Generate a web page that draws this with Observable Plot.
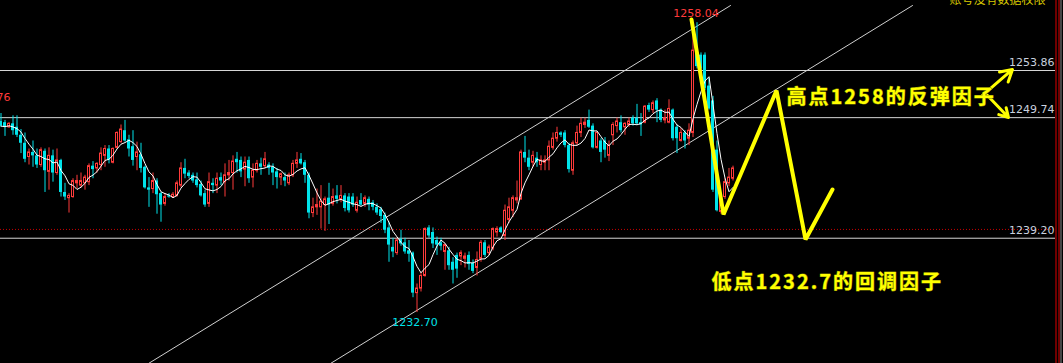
<!DOCTYPE html>
<html><head><meta charset="utf-8">
<script src="https://cdn.jsdelivr.net/npm/d3@7"></script>
<script src="https://cdn.jsdelivr.net/npm/@observablehq/plot@0.6"></script>
<style>html,body{margin:0;padding:0;background:#000;overflow:hidden}</style>
</head><body><div id="chart"></div>
<script>
// candle index 0..183, prices
const open = [
1249.4,1249.3,1248.9,1249.2,1248.9,1248.2,1247.5,1246.3,1246.7,1246.4,
1245.6,1246.8,1245.0,1246.4,1244.9,1246.0,1243.2,1242.7,1242.8,1244.0,
1243.8,1244.0,1244.1,1245.5,1245.3,1245.6,1246.4,1247.0,1245.8,1247.1,
1247.6,1248.6,1247.8,1247.2,1246.3,1246.5,1245.4,1243.6,1243.5,1244.2,
1243.1,1242.2,1242.9,1242.8,1242.9,1243.8,1245.3,1244.9,1244.7,1244.3,
1243.9,1243.1,1242.2,1244.0,1243.8,1244.5,1244.1,1244.7,1244.9,1246.1,
1246.0,1245.2,1246.0,1244.5,1245.1,1245.7,1245.5,1245.6,1245.4,1245.0,
1244.5,1244.5,1244.0,1244.7,1245.7,1246.1,1245.8,1244.7,1241.4,1241.9,
1241.9,1242.1,1242.7,1242.2,1242.9,1242.6,1242.9,1242.8,1242.8,1241.6,
1242.5,1242.2,1242.6,1242.3,1241.9,1241.7,1241.2,1240.1,1238.4,1237.9,
1239.1,1238.8,1238.1,1237.9,1234.4,1234.8,1235.9,1240.1,1239.7,1239.0,
1238.8,1238.0,1238.1,1237.1,1237.7,1237.6,1237.4,1237.7,1237.0,1236.6,
1237.4,1238.8,1237.9,1238.3,1239.7,1240.1,1239.4,1240.8,1241.6,1242.5,
1242.6,1246.7,1246.2,1245.8,1246.2,1245.6,1245.8,1246.0,1247.1,1247.9,
1248.4,1248.4,1247.3,1245.1,1247.5,1248.4,1249.1,1249.5,1249.0,1247.1,
1247.7,1247.7,1246.4,1248.2,1249.0,1249.3,1248.9,1249.1,1249.7,1249.7,
1249.3,1249.3,1250.8,1250.4,1251.2,1250.4,1249.5,1249.3,1250.4,1248.9,
1247.7,1248.4,1247.9,1248.4,1255.8,1255.2,1255.2,1252.5,1251.2,1246.9,
1241.5,1242.8,1244.0,1244.4];
const high = [
1250.1,1249.5,1249.3,1249.9,1249.9,1248.7,1248.4,1247.0,1247.7,1247.0,
1247.1,1247.0,1247.1,1246.9,1247.0,1246.1,1244.0,1243.1,1244.4,1244.7,
1244.9,1244.7,1245.7,1245.9,1245.8,1247.1,1247.3,1247.3,1247.1,1248.5,
1249.1,1249.5,1248.2,1248.6,1247.6,1247.5,1245.5,1244.5,1244.9,1244.4,
1243.2,1243.1,1243.1,1243.2,1244.2,1245.8,1246.1,1245.1,1244.9,1244.9,
1244.2,1243.4,1244.9,1244.4,1244.9,1244.9,1245.7,1246.0,1246.4,1246.7,
1246.3,1246.3,1246.3,1245.7,1246.0,1246.2,1246.7,1245.8,1245.7,1245.3,
1244.9,1244.9,1244.9,1246.0,1246.7,1246.6,1246.0,1244.9,1242.7,1243.5,
1243.8,1242.8,1244.0,1243.5,1243.8,1243.8,1243.1,1243.1,1243.1,1242.8,
1243.1,1242.9,1242.8,1242.5,1242.2,1241.9,1241.4,1240.6,1239.2,1239.2,
1239.9,1239.2,1239.0,1238.0,1235.2,1236.2,1240.1,1240.3,1240.1,1239.3,
1239.2,1238.7,1238.4,1237.5,1237.9,1238.1,1237.9,1238.0,1237.3,1238.0,
1239.0,1239.0,1238.6,1240.1,1240.2,1240.2,1242.1,1242.7,1242.9,1244.2,
1246.9,1248.1,1246.9,1246.8,1246.7,1246.4,1246.4,1247.7,1248.4,1248.9,
1248.5,1248.6,1247.5,1247.7,1249.0,1249.7,1249.7,1250.4,1249.2,1248.5,
1247.9,1248.0,1247.7,1249.3,1249.7,1249.9,1249.3,1249.7,1249.9,1250.9,
1250.1,1250.8,1251.0,1251.2,1251.4,1250.5,1250.4,1251.3,1250.5,1249.1,
1248.8,1248.6,1249.2,1257.4,1258.04,1255.4,1255.4,1253.2,1251.6,1247.7,
1242.8,1244.4,1245.3,1245.5];
const low = [
1248.9,1248.1,1248.8,1248.2,1248.0,1246.6,1245.8,1245.6,1245.4,1245.3,
1245.4,1243.2,1243.4,1244.1,1244.7,1242.8,1242.5,1241.4,1242.7,1243.5,
1243.6,1243.4,1243.8,1244.4,1244.9,1245.1,1245.4,1245.7,1245.7,1247.0,
1247.5,1247.6,1246.3,1245.5,1245.1,1244.9,1243.5,1241.9,1243.1,1241.3,
1240.6,1242.0,1242.7,1242.7,1242.8,1243.6,1244.4,1244.4,1244.0,1243.6,
1242.8,1241.9,1241.9,1243.1,1243.1,1243.8,1242.8,1244.2,1243.4,1244.9,
1244.5,1243.7,1244.0,1243.6,1244.9,1244.7,1245.3,1244.7,1243.8,1243.5,
1243.8,1243.7,1243.8,1244.5,1245.3,1245.6,1244.0,1240.9,1241.0,1241.2,
1240.0,1239.8,1240.4,1242.0,1242.2,1242.3,1241.5,1241.4,1241.9,1241.4,
1242.0,1241.9,1241.6,1241.6,1241.2,1240.5,1239.6,1237.1,1237.5,1237.7,
1238.5,1237.8,1237.1,1234.0,1232.70,1234.5,1235.8,1239.2,1238.3,1237.7,
1238.1,1236.4,1236.4,1235.2,1235.7,1236.8,1236.6,1236.4,1236.1,1235.9,
1237.1,1237.5,1237.7,1238.1,1239.3,1239.6,1239.0,1240.5,1241.0,1242.2,
1242.5,1245.8,1245.1,1245.4,1245.4,1245.1,1245.1,1245.1,1246.9,1247.6,
1248.0,1247.1,1244.9,1244.7,1247.3,1248.0,1248.8,1248.8,1247.0,1247.0,
1245.8,1246.2,1245.9,1247.3,1248.4,1248.4,1248.2,1248.9,1249.0,1249.1,
1248.1,1249.2,1250.2,1250.1,1249.3,1249.3,1249.2,1249.2,1247.7,1246.6,
1247.6,1247.0,1247.3,1248.0,1254.0,1253.7,1252.1,1250.4,1243.2,1241.5,
1241.3,1242.6,1243.7,1244.2];
const close = [
1249.0,1248.9,1249.2,1248.6,1248.2,1247.5,1246.1,1246.7,1246.4,1245.6,
1246.9,1245.1,1246.4,1244.9,1246.0,1243.2,1242.8,1242.9,1244.2,1244.2,
1244.2,1244.5,1245.5,1245.2,1245.7,1246.6,1247.0,1246.0,1247.0,1248.4,
1248.7,1247.7,1247.0,1246.0,1246.7,1245.3,1243.6,1243.4,1244.2,1243.0,
1242.1,1242.8,1242.8,1243.0,1244.0,1245.3,1244.8,1244.6,1244.2,1243.8,
1242.9,1242.1,1244.1,1243.8,1244.4,1244.2,1244.7,1244.9,1245.9,1245.8,
1245.0,1245.8,1244.4,1245.1,1245.7,1245.4,1246.1,1245.3,1244.9,1244.5,
1244.8,1244.2,1244.7,1245.7,1246.0,1245.7,1244.7,1241.4,1241.9,1242.1,
1242.4,1242.6,1242.1,1242.8,1242.6,1242.9,1241.8,1241.6,1242.1,1242.3,
1242.1,1242.7,1242.1,1241.9,1241.4,1241.1,1239.9,1238.6,1238.0,1239.0,
1238.7,1238.0,1237.8,1234.4,1234.8,1235.9,1240.0,1239.4,1238.7,1238.6,
1238.5,1238.6,1236.8,1236.4,1236.5,1237.9,1237.6,1236.9,1236.3,1237.3,
1238.8,1237.7,1238.4,1240.0,1240.0,1239.7,1241.6,1241.9,1242.7,1242.7,
1246.7,1246.2,1245.4,1246.4,1245.8,1246.0,1246.0,1247.2,1247.9,1248.4,
1248.2,1247.3,1245.2,1247.5,1248.4,1249.2,1249.3,1248.9,1247.1,1248.4,
1246.7,1246.9,1247.3,1249.1,1249.4,1248.6,1249.2,1249.4,1249.2,1249.2,
1249.1,1250.7,1250.4,1251.0,1250.4,1249.5,1249.7,1250.5,1247.9,1247.9,
1248.4,1247.7,1248.6,1255.6,1254.2,1254.0,1252.3,1250.5,1243.4,1241.6,
1242.7,1244.1,1244.5,1245.3];

// horizontal levels (right-hand labels) and current bid line
const levels = [1253.86, 1249.74, 1239.20];
const levelLabels = ["1253.86", "1249.74", "1239.20"];
const bidPrice = 1239.97;

// extreme labels
const highMark = [{i: 174, price: 1258.04, text: "1258.04"}];
const lowMark = [{i: 104, price: 1232.70, text: "1232.70"}];
const leftMark = [{i: 2.375, price: 1250.76, text: "1250.76"}];

// channel trend lines (candle index, price)
const channelUpper = [{i: 36.875, p: 1228.25}, {i: 182.375, p: 1259.54}];
const channelLower = [{i: 82.375, p: 1228.25}, {i: 227.875, p: 1259.54}];

// yellow projected zigzag (candle index, price)
const zigzag = [
  {i: 172.625, p: 1258.32}, {i: 180.625, p: 1241.27}, {i: 193.875, p: 1252.11},
  {i: 201.125, p: 1239.09}, {i: 207.875, p: 1243.46}];

// annotation arrows
const arrows = [
  {i1: 245.375, p1: 1251.68, i2: 252.875, p2: 1253.95},
  {i1: 246.625, p1: 1251.68, i2: 251.875, p2: 1249.75}];

// annotation texts
const notes = [
  {i: 196.375, p: 1251.53, text: "高点1258的反弹因子"},
  {i: 177.625, p: 1235.36, text: "低点1232.7的回调因子"}];
const notice = [{i: 261.125, p: 1259.98, text: "账号没有数据权限"}];

const RED = "#ff3b3b", CYAN = "#00e3ea", YEL = "#ffff00";
const candles = close.map((c, i) => ({i, open: open[i], high: high[i], low: low[i], close: c, up: c >= open[i]}));
const ups = candles.filter(d => d.up), downs = candles.filter(d => !d.up);
const xEnd = 263.625;

const lblFont = {fontFamily: "DejaVu Sans", fontSize: 11};
const chart = Plot.plot({
  width: 1063, height: 363, margin: 0,
  x: {domain: [-0.125, 265.625], axis: null},
  y: {domain: [1228.25, 1259.98], axis: null},
  color: {type: "identity"},
  style: {background: "#000", overflow: "hidden"},
  marks: [
    Plot.ruleY(levels, {x1: -0.125, x2: xEnd, stroke: "#d6d6d6", strokeWidth: 1}),
    Plot.ruleY([bidPrice], {x1: -0.125, x2: xEnd, stroke: "#c80000", strokeDasharray: "1,2"}),
    Plot.line(channelUpper, {x: "i", y: "p", stroke: "#d0d0d0", strokeWidth: 1}),
    Plot.line(channelLower, {x: "i", y: "p", stroke: "#d0d0d0", strokeWidth: 1}),
    Plot.ruleX(candles, {x: "i", y1: "low", y2: "high", stroke: d => d.up ? RED : CYAN, strokeWidth: 1}),
    Plot.rect(downs, {x1: d => d.i - 0.375, x2: d => d.i + 0.375, y1: "open", y2: "close", fill: CYAN}),
    Plot.rect(ups, {x1: d => d.i - 0.25, x2: d => d.i + 0.25, y1: "open", y2: "close", fill: "#000", stroke: RED, strokeWidth: 1}),
    Plot.lineY(candles, Plot.windowY({k: 5, anchor: "end", reduce: "mean"}, {x: "i", y: "close", stroke: "#ffffff", strokeWidth: 1})),
    Plot.line(zigzag, {x: "i", y: "p", stroke: YEL, strokeWidth: 4, strokeLinejoin: "miter"}),
    Plot.arrow(arrows, {x1: "i1", y1: "p1", x2: "i2", y2: "p2", stroke: YEL, strokeWidth: 3, headLength: 9, bend: 0}),
    Plot.text(levels, {x: 263.375, y: d => d, text: (d, k) => levelLabels[k], textAnchor: "end", dy: -8, fill: "#c9d1df", ...lblFont}),
    Plot.text(highMark, {x: "i", y: "price", text: "text", dy: -9, dx: -1, fill: RED, ...lblFont}),
    Plot.text(lowMark, {x: "i", y: "price", text: "text", dy: 10, dx: -2, fill: CYAN, ...lblFont}),
    Plot.text(leftMark, {x: "i", y: "price", text: "text", dy: -9, textAnchor: "end", fill: RED, ...lblFont}),
    Plot.text(notes, {x: "i", y: "p", text: "text", textAnchor: "start", fill: YEL, stroke: "#7a7a00", strokeWidth: 1, paintOrder: "stroke",
      fontFamily: "Noto Sans CJK SC", fontWeight: "bold", fontSize: 20}),
    Plot.text(notice, {x: "i", y: "p", text: "text", textAnchor: "end", fill: "#d8c800", fontFamily: "Noto Sans CJK SC", fontSize: 12}),
    Plot.ruleX([263.75, 264.5], {stroke: "#e00000", strokeWidth: 1}),
    Plot.ruleX([265.0], {stroke: "#8a8a8a", strokeWidth: 1})
  ]
});
d3.select(chart).selectAll("text").filter(function () { return /因子/.test(this.textContent); }).style("letter-spacing", "2px");
document.getElementById("chart").appendChild(chart);
</script>
</body></html>
